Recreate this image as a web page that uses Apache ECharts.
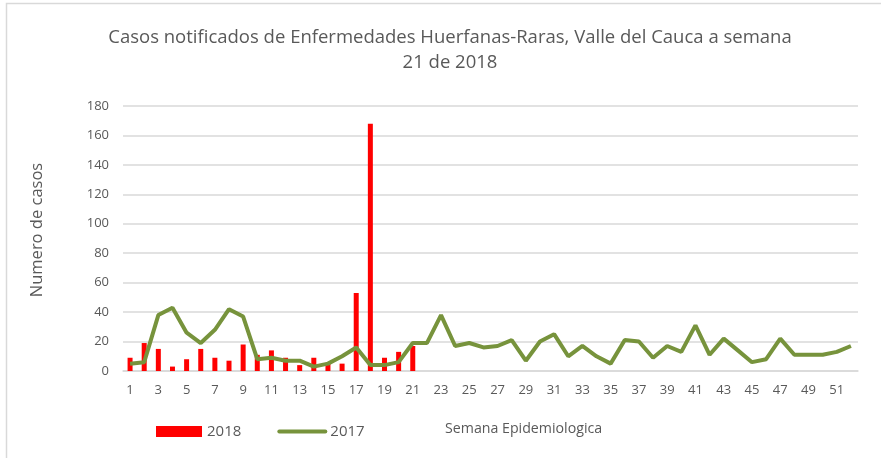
<!DOCTYPE html>
<html>
<head>
<meta charset="utf-8">
<script src="https://cdn.jsdelivr.net/npm/echarts@6/dist/echarts.min.js"></script>
<style>
  html, body { margin: 0; padding: 0; background: #fff; }
  #chart { width: 881px; height: 458px; }
</style>
</head>
<body>
<div id="chart"></div>
<script>
// semanas 1..52
const semanas = [];
for (let i = 1; i <= 52; i++) semanas.push(String(i));

// 2018 hasta semana 21
const casos2018 = [9, 19, 15, 3, 8, 15, 9, 7, 18, 11, 14, 9, 4, 9, 5, 5, 53, 168, 9, 13, 17];

const casos2017 = [5, 6, 38, 43, 26, 19, 28, 42, 37, 8, 9, 7, 7, 3, 5, 10, 16, 4, 4, 6,
  19, 19, 38, 17, 19, 16, 17, 21, 7, 20, 25, 10, 17, 10, 5, 21, 20, 9, 17, 13,
  31, 11, 22, 14, 6, 8, 22, 11, 11, 11, 13, 17];

const gris = "#595959";
const fuente = "Open Sans";
const verde = "#77933c";

let myChart = echarts.init(document.getElementById("chart"));
myChart.setOption({
  animation: false,
  textStyle: { fontFamily: fuente },
  title: {
    text: "Casos notificados de Enfermedades Huerfanas-Raras, Valle del Cauca a semana\n21 de 2018",
    left: 445,
    top: 20,
    textAlign: "center",
    textStyle: {
      fontFamily: fuente,
      fontWeight: "normal",
      fontSize: 18.5,
      color: gris,
      lineHeight: 25,
    },
  },
  legend: {
    left: 156,
    top: 424,
    padding: 0,
    itemWidth: 46,
    itemHeight: 11,
    itemGap: 36,
    textStyle: { fontFamily: fuente, fontSize: 15, color: gris },
    data: [
      { name: "2018", icon: "rect" },
      { name: "2017", itemStyle: { opacity: 0 }, lineStyle: { width: 4, color: verde, cap: "round" } },
    ],
  },
  graphic: [
    {
      type: "rect",
      shape: { x: 6.5, y: 3.5, width: 1000, height: 1000 },
      style: { fill: "none", stroke: "#d9d9d9", lineWidth: 1.5 },
      silent: true,
    },
    {
      type: "text",
      x: 37,
      y: 230,
      rotation: Math.PI / 2,
      style: {
        text: "Numero de casos",
        fontFamily: fuente,
        fontSize: 16.5,
        fill: gris,
        align: "center",
        verticalAlign: "middle",
      },
    },
    {
      type: "text",
      left: 445,
      top: 422,
      style: {
        text: "Semana Epidemiologica",
        fontFamily: fuente,
        fontSize: 14.2,
        fill: gris,
      },
    },
  ],
  grid: {
    left: 123,
    right: 23,
    top: 106,
    bottom: 87,
  },
  xAxis: {
    type: "category",
    data: semanas,
    axisTick: { show: false },
    axisLine: { lineStyle: { color: "#d9d9d9", width: 1.5 } },
    axisLabel: {
      interval: 1,
      color: gris,
      fontSize: 13,
      margin: 13,
      fontFamily: fuente,
    },
  },
  yAxis: {
    type: "value",
    min: 0,
    max: 180,
    interval: 20,
    axisLabel: { color: gris, fontSize: 13, margin: 14, fontFamily: fuente },
    splitLine: { lineStyle: { color: "#d9d9d9", width: 1.5 } },
  },
  series: [
    {
      name: "2018",
      type: "bar",
      data: casos2018,
      barWidth: 5,
      itemStyle: { color: "#ff0000" },
    },
    {
      name: "2017",
      type: "line",
      data: casos2017,
      symbol: "none",
      lineStyle: { color: verde, width: 4 },
      itemStyle: { color: verde },
    },
  ],
});
</script>
</body>
</html>
